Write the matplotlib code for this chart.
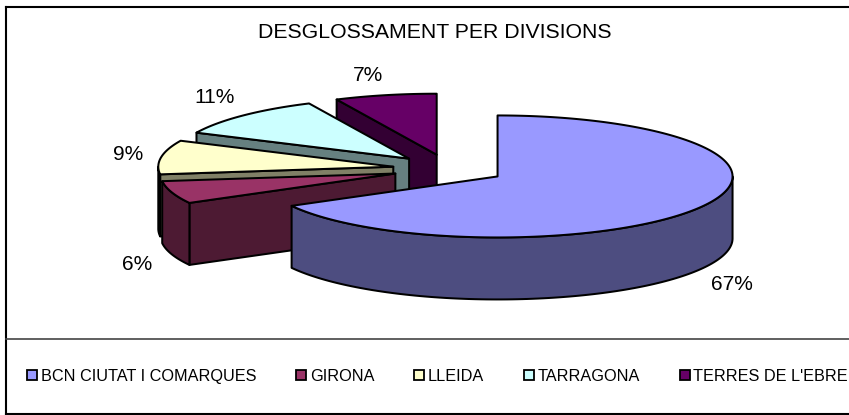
import numpy as np
import matplotlib
matplotlib.use("Agg")
import matplotlib.pyplot as plt
from matplotlib.patches import Polygon, Patch
from matplotlib.lines import Line2D

# ---- data ----
categories = ["BCN CIUTAT I COMARQUES", "GIRONA", "LLEIDA", "TARRAGONA", "TERRES DE L'EBRE"]
values = [67, 6, 9, 11, 7]
colors = ["#9999FF", "#993366", "#FFFFCC", "#CCFFFF", "#660066"]
title = "DESGLOSSAMENT PER DIVISIONS"

plt.rcParams['font.family'] = ['Liberation Sans', 'DejaVu Sans']

W, H = 849, 415
fig = plt.figure(figsize=(W / 100, H / 100), dpi=100)
ax = fig.add_axes([0, 0, 1, 1])
ax.set_xlim(0, W)
ax.set_ylim(H, 0)
ax.axis('off')

# ---- layout (pixel space) ----
CX, CY = 449.0, 169.0
RX, RY = 235.0, 61.0
DEPTH = 62.0
EXPLODE = 0.24
LW = 1.45


def shade(c, f=0.5):
    r, g, b = matplotlib.colors.to_rgb(c)
    return (r * f, g * f, b * f)


total = float(sum(values))
fr = np.array(values) / total
ends = np.cumsum(fr) * 360.0
starts = ends - fr * 360.0
mids = (starts + ends) / 2.0


def rim(cx, cy, th, dz=0.0):
    t = np.radians(th)
    return cx + RX * np.sin(t), cy - RY * np.cos(t) + dz


order = np.argsort(-np.cos(np.radians(mids)))
for i in order:
    a1, a2, am = starts[i], ends[i], mids[i]
    tm = np.radians(am)
    cx = CX + RX * EXPLODE * np.sin(tm)
    cy = CY - RY * EXPLODE * np.cos(tm)
    col = colors[i]
    side = shade(col)
    # radial walls
    for a, vis in ((a1, np.sin(np.radians(a1)) < -1e-6), (a2, np.sin(np.radians(a2)) > 1e-6)):
        if vis:
            x, y = rim(cx, cy, a)
            pts = [(cx, cy), (x, y), (x, y + DEPTH), (cx, cy + DEPTH)]
            ax.add_patch(Polygon(pts, closed=True, facecolor=side, edgecolor='black', lw=LW, joinstyle='round'))
    # outer wall
    lo, hi = max(a1, 90.0), min(a2, 270.0)
    if hi > lo:
        th = np.linspace(lo, hi, 120)
        xs, ys = rim(cx, cy, th)
        pts = list(zip(xs, ys)) + list(zip(xs[::-1], ys[::-1] + DEPTH))
        ax.add_patch(Polygon(pts, closed=True, facecolor=side, edgecolor='black', lw=LW, joinstyle='round'))
    # top face
    th = np.linspace(a1, a2, 200)
    xs, ys = rim(cx, cy, th)
    pts = [(cx, cy)] + list(zip(xs, ys))
    ax.add_patch(Polygon(pts, closed=True, facecolor=col, edgecolor='black', lw=LW, joinstyle='round'))
    # label
    f = 1.1
    s, c = np.sin(tm), np.cos(tm)
    lx = cx + RX * f * s + 12 * np.sign(s) * min(1.0, abs(c) / 0.3 + 0.3)
    if c >= 0:
        ly = cy - RY * f * c - 17 * min(1.0, c / 0.6)
    else:
        ly = cy - RY * f * c + DEPTH + 18 * (-c)
    ax.text(lx, ly + 3, f"{values[i] / total * 100:.0f}%", ha='center', va='center', fontsize=15, color='black')

# title
ax.text(435, 33, title, ha='center', va='center', fontsize=15.3, color='black')

# frame
ax.add_line(Line2D([6, 6], [7, 414], color='black', lw=1.5))
ax.add_line(Line2D([6, W + 5], [7, 7], color='black', lw=1.5))
ax.add_line(Line2D([6, W + 5], [414, 414], color='black', lw=1.5))
ax.add_line(Line2D([6, W + 5], [339, 339], color='#444444', lw=1.2))

handles = [Patch(facecolor=c, edgecolor='black', lw=1.3) for c in colors]
fig.legend(handles, categories, loc='center', bbox_to_anchor=(437.5 / W, 1 - 376 / H), ncol=5,
           frameon=False, fontsize=11.7, handlelength=0.62, handleheight=0.62, handletextpad=0.22,
           columnspacing=2.45, borderaxespad=0, borderpad=0)

fig.savefig("out.png", dpi=100)
